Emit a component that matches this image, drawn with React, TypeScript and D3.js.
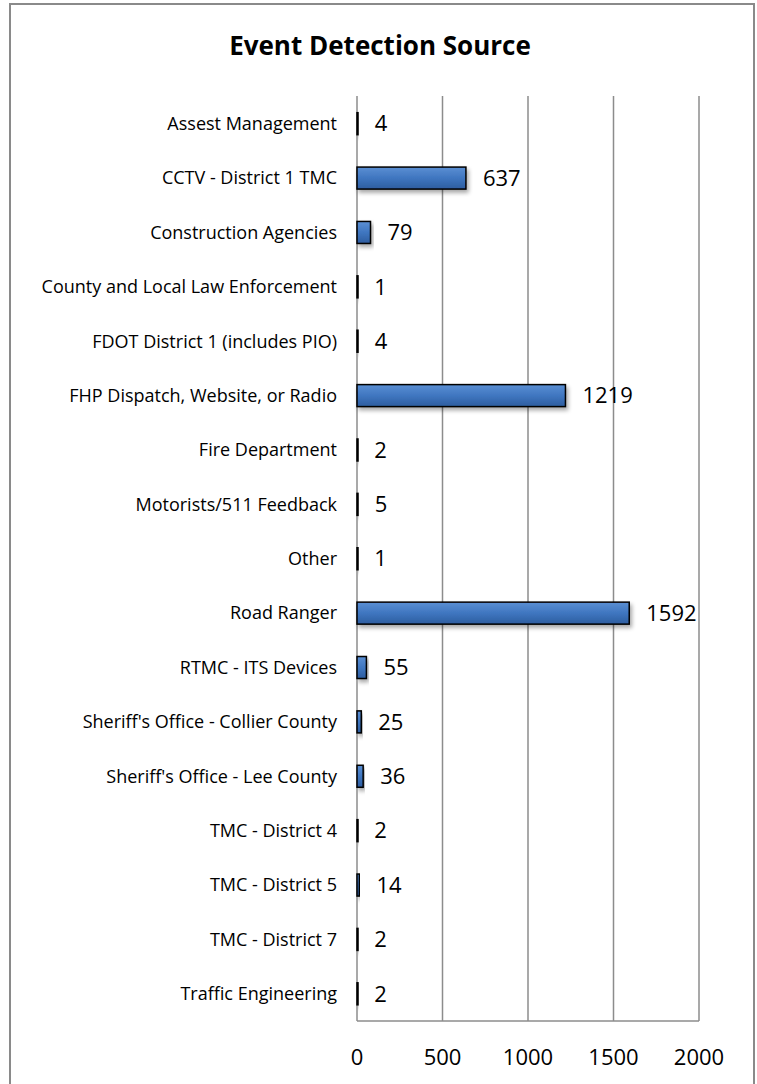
import React from 'react';
import * as d3 from 'd3';

// チャートのデータ
const categories = [
  'Assest Management',
  'CCTV - District 1 TMC',
  'Construction Agencies',
  'County and Local Law Enforcement',
  'FDOT District 1 (includes PIO)',
  'FHP Dispatch, Website, or Radio',
  'Fire Department',
  'Motorists/511 Feedback',
  'Other',
  'Road Ranger',
  'RTMC - ITS Devices',
  "Sheriff's Office - Collier County",
  "Sheriff's Office - Lee County",
  'TMC - District 4',
  'TMC - District 5',
  'TMC - District 7',
  'Traffic Engineering',
];
const counts = [4, 637, 79, 1, 4, 1219, 2, 5, 1, 1592, 55, 25, 36, 2, 14, 2, 2];
const xTicks = [0, 500, 1000, 1500, 2000];
const title = 'Event Detection Source';

const W = 757;
const H = 1084;
const FONT = "'Open Sans', 'Noto Sans', sans-serif";

const App = () => {
  const x = d3.scaleLinear().domain([0, 2000]).range([357, 699]);
  const band = d3.scaleBand<string>().domain(categories).range([96.5, 1021]);
  const gridColor = '#8c8c8c';
  const barH = 22;

  return (
    <svg width={W} height={H} style={{ position: 'absolute', left: 0, top: 0, background: '#fff' }}>
      <defs>
        <linearGradient id="barFill" x1="0" y1="0" x2="0" y2="1">
          <stop offset="0" stopColor="#5b8fd3" />
          <stop offset="0.5" stopColor="#3f76c0" />
          <stop offset="1" stopColor="#2d5d9f" />
        </linearGradient>
        <filter id="shadow" x="-10%" y="-50%" width="130%" height="250%">
          <feGaussianBlur in="SourceAlpha" stdDeviation="2" />
          <feOffset dx="2" dy="3" result="b" />
          <feComponentTransfer><feFuncA type="linear" slope="0.35" /></feComponentTransfer>
          <feMerge><feMergeNode /><feMergeNode in="SourceGraphic" /></feMerge>
        </filter>
      </defs>

      {/* 外枠 */}
      <rect x={10} y={4} width={744} height={H + 10} fill="none" stroke="#8a8a8a" strokeWidth={2} />

      <text x={380} y={55} textAnchor="middle" fontFamily={FONT} fontSize={26} fontWeight="bold" fill="#000">
        {title}
      </text>

      {/* グリッド線 */}
      {xTicks.map(t => (
        <line key={t} x1={x(t)} x2={x(t)} y1={96} y2={1021} stroke={gridColor} strokeWidth={1.5} />
      ))}
      <line x1={x(0)} x2={x(2000)} y1={1021} y2={1021} stroke={gridColor} strokeWidth={1.5} />

      {/* 目盛りラベル */}
      {xTicks.map(t => (
        <text key={t} x={x(t)} y={1057} dy="0.35em" textAnchor="middle" fontFamily={FONT} fontSize={22} fill="#000">
          {t}
        </text>
      ))}

      {categories.map((c, i) => {
        const cy = (band(c) as number) + band.bandwidth() / 2;
        const v = counts[i];
        return (
          <g key={c}>
            <text x={337} y={cy} dy="0.35em" textAnchor="end" fontFamily={FONT} fontSize={18} fill="#000">
              {c}
            </text>
            <rect
              x={x(0)}
              y={cy - barH / 2}
              width={Math.max(x(v) - x(0), 1)}
              height={barH}
              fill="url(#barFill)"
              stroke="#000"
              strokeWidth={1.5}
              filter="url(#shadow)"
            />
            <text x={x(v) + 17} y={cy} dy="0.35em" fontFamily={FONT} fontSize={22} fill="#000">
              {v}
            </text>
          </g>
        );
      })}
    </svg>
  );
};

export default App;
